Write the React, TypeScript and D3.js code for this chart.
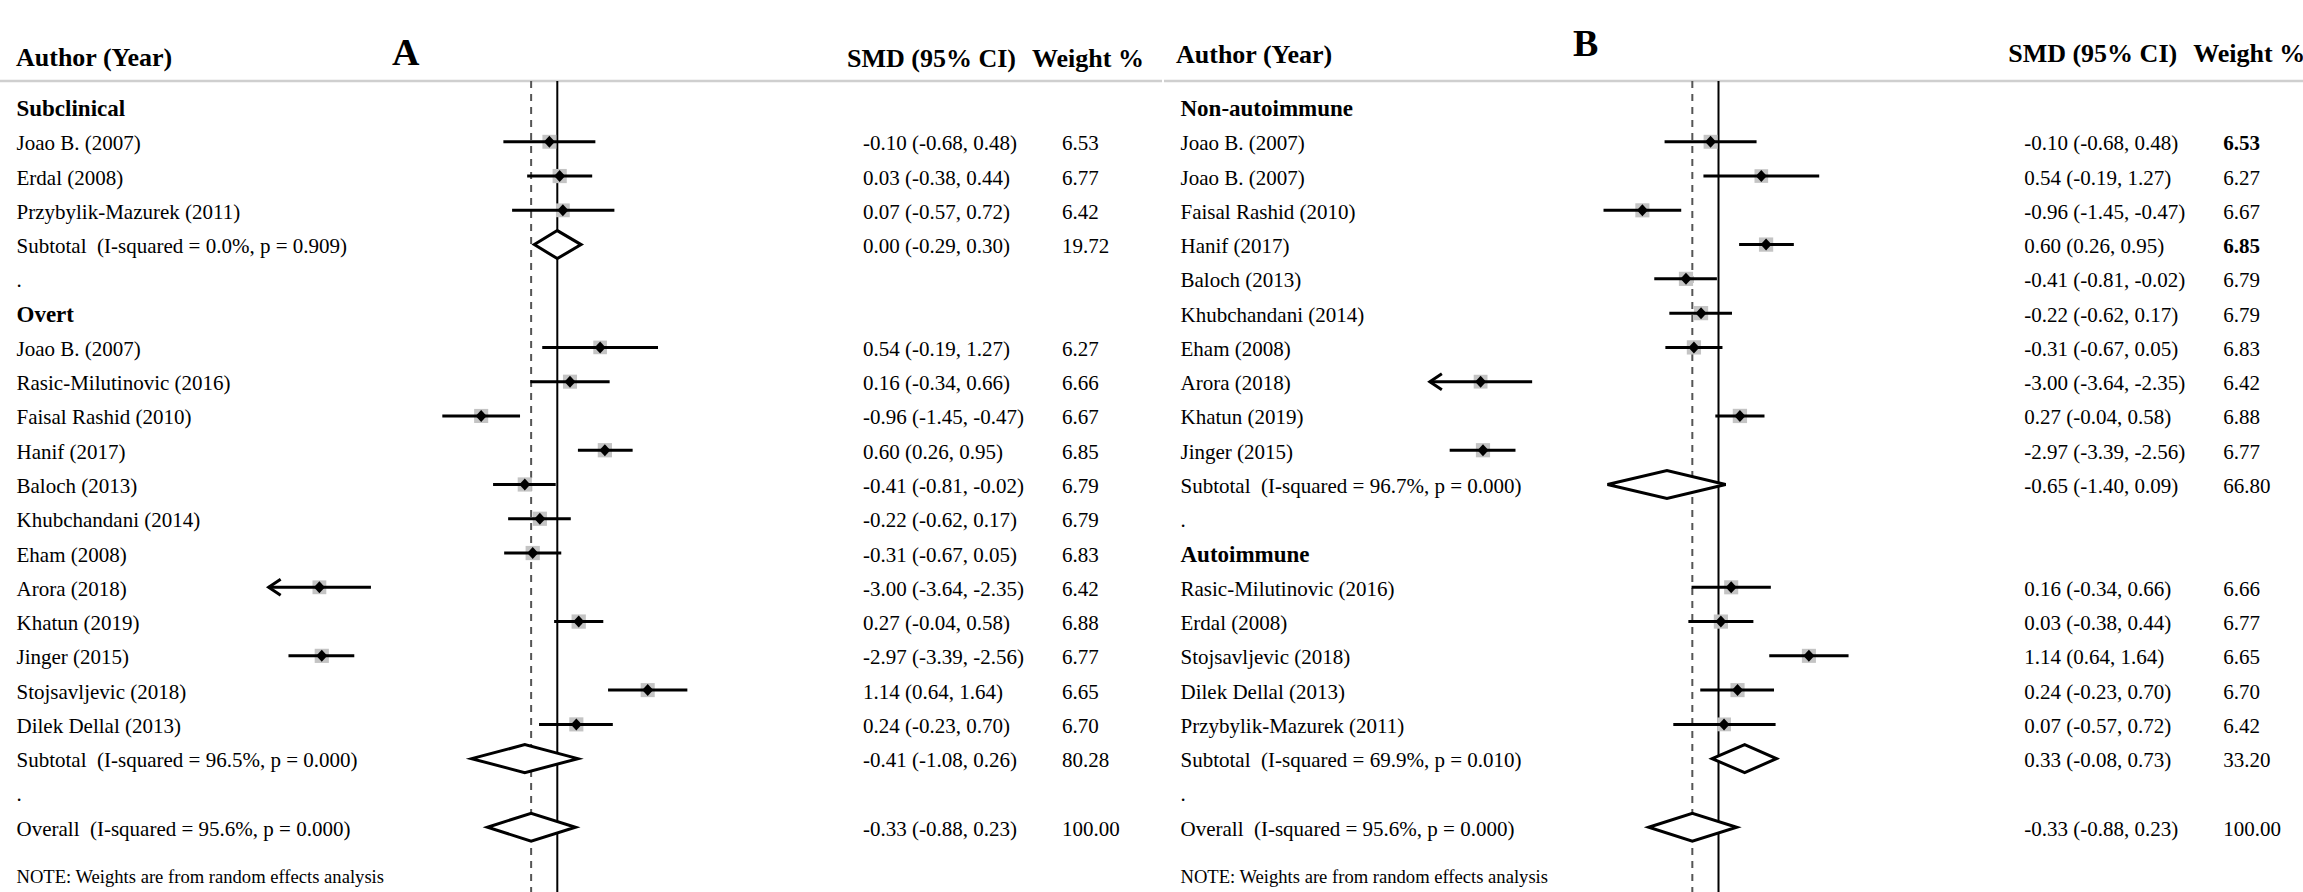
import React from "react";
import * as d3 from "d3";

// ---------- Panel A data ----------
const aLabels = [
  "Subclinical", "Joao B. (2007)", "Erdal (2008)", "Przybylik-Mazurek (2011)",
  "Subtotal  (I-squared = 0.0%, p = 0.909)", ".", "Overt", "Joao B. (2007)",
  "Rasic-Milutinovic (2016)", "Faisal Rashid (2010)", "Hanif (2017)", "Baloch (2013)",
  "Khubchandani (2014)", "Eham (2008)", "Arora (2018)", "Khatun (2019)", "Jinger (2015)",
  "Stojsavljevic (2018)", "Dilek Dellal (2013)", "Subtotal  (I-squared = 96.5%, p = 0.000)",
  ".", "Overall  (I-squared = 95.6%, p = 0.000)",
];
const aKinds = [
  "group", "study", "study", "study", "pooled", "blank", "group", "study",
  "study", "study", "study", "study", "study", "study", "study", "study", "study",
  "study", "study", "pooled", "blank", "pooled",
];
const aSMD = [null, -0.10, 0.03, 0.07, 0.00, null, null, 0.54, 0.16, -0.96, 0.60, -0.41, -0.22, -0.31, -3.00, 0.27, -2.97, 1.14, 0.24, -0.41, null, -0.33];
const aLow = [null, -0.68, -0.38, -0.57, -0.29, null, null, -0.19, -0.34, -1.45, 0.26, -0.81, -0.62, -0.67, -3.64, -0.04, -3.39, 0.64, -0.23, -1.08, null, -0.88];
const aHigh = [null, 0.48, 0.44, 0.72, 0.30, null, null, 1.27, 0.66, -0.47, 0.95, -0.02, 0.17, 0.05, -2.35, 0.58, -2.56, 1.64, 0.70, 0.26, null, 0.23];
const aWeight = [null, 6.53, 6.77, 6.42, 19.72, null, null, 6.27, 6.66, 6.67, 6.85, 6.79, 6.79, 6.83, 6.42, 6.88, 6.77, 6.65, 6.70, 80.28, null, 100.00];
const aBoldWeight: number[] = [];

// ---------- Panel B data ----------
const bLabels = [
  "Non-autoimmune", "Joao B. (2007)", "Joao B. (2007)", "Faisal Rashid (2010)", "Hanif (2017)",
  "Baloch (2013)", "Khubchandani (2014)", "Eham (2008)", "Arora (2018)", "Khatun (2019)",
  "Jinger (2015)", "Subtotal  (I-squared = 96.7%, p = 0.000)", ".", "Autoimmune",
  "Rasic-Milutinovic (2016)", "Erdal (2008)", "Stojsavljevic (2018)", "Dilek Dellal (2013)",
  "Przybylik-Mazurek (2011)", "Subtotal  (I-squared = 69.9%, p = 0.010)", ".",
  "Overall  (I-squared = 95.6%, p = 0.000)",
];
const bKinds = [
  "group", "study", "study", "study", "study", "study", "study", "study", "study", "study",
  "study", "pooled", "blank", "group", "study", "study", "study", "study", "study", "pooled",
  "blank", "pooled",
];
const bSMD = [null, -0.10, 0.54, -0.96, 0.60, -0.41, -0.22, -0.31, -3.00, 0.27, -2.97, -0.65, null, null, 0.16, 0.03, 1.14, 0.24, 0.07, 0.33, null, -0.33];
const bLow = [null, -0.68, -0.19, -1.45, 0.26, -0.81, -0.62, -0.67, -3.64, -0.04, -3.39, -1.40, null, null, -0.34, -0.38, 0.64, -0.23, -0.57, -0.08, null, -0.88];
const bHigh = [null, 0.48, 1.27, -0.47, 0.95, -0.02, 0.17, 0.05, -2.35, 0.58, -2.56, 0.09, null, null, 0.66, 0.44, 1.64, 0.70, 0.72, 0.73, null, 0.23];
const bWeight = [null, 6.53, 6.27, 6.67, 6.85, 6.79, 6.79, 6.83, 6.42, 6.88, 6.77, 66.80, null, null, 6.66, 6.77, 6.65, 6.70, 6.42, 33.20, null, 100.00];
const bBoldWeight = [1, 4];

const headerAuthor = "Author (Year)";
const headerSMD = "SMD (95% CI)";
const headerWeight = "Weight %";
const noteText = "NOTE: Weights are from random effects analysis";
const overallSMD = -0.33;
const axisMin = -3.5;

const FONT = '"Liberation Serif", "Times New Roman", serif';
const W = 2303;
const H = 892;

type PanelProps = {
  labels: string[]; kinds: string[]; smd: (number | null)[]; low: (number | null)[];
  high: (number | null)[]; weight: (number | null)[]; boldW: number[];
  ox: number; labelX: number; headX: number; letter: string; letterX: number; letterY: number;
  headY: number; colHeadY: number;
};

const fmt = (v: number) => v.toFixed(2);

function Panel(p: PanelProps) {
  const x = d3.scaleLinear().domain([-4, 2]).range([p.ox + 557.3 - 4 * 79.3, p.ox + 557.3 + 2 * 79.3]);
  const y = d3.scaleLinear().domain([0, 21]).range([107.5, 827.2]);
  const sq = d3.scaleSqrt().domain([0, 6.6]).range([0, 14]);
  const smdX = p.ox + 863;
  const wX = p.ox + 1062;
  const lineTop = 81;
  const items: React.ReactNode[] = [];
  p.labels.forEach((lab, i) => {
    const kind = p.kinds[i];
    const cy = y(i);
    items.push(
      <text key={"l" + i} x={p.labelX} y={cy + 8.5} fontSize={kind === "group" ? 23 : 21}
        fontWeight={kind === "group" ? "bold" : "normal"} style={{ whiteSpace: "pre" }}>{lab}</text>
    );
    const es = p.smd[i], lo = p.low[i], hi = p.high[i], w = p.weight[i];
    if (es != null && lo != null && hi != null) {
      items.push(
        <text key={"v" + i} x={smdX} y={cy + 8.5} fontSize={21}>{`${fmt(es)} (${fmt(lo)}, ${fmt(hi)})`}</text>
      );
    }
    if (w != null) {
      items.push(
        <text key={"w" + i} x={wX} y={cy + 8.5} fontSize={21}
          fontWeight={p.boldW.includes(i) ? "bold" : "normal"}>{fmt(w)}</text>
      );
    }
    if (kind === "study" && es != null && lo != null && hi != null && w != null) {
      const s = sq(w);
      const trunc = lo < axisMin;
      items.push(
        <g key={"m" + i}>
          <rect x={x(es) - s / 2} y={cy - s / 2} width={s} height={s} fill="#c4c4c4" />
          <line x1={x(lo)} x2={x(hi)} y1={cy} y2={cy} stroke="#000" strokeWidth={3} />
          {trunc && (
            <path d={`M${x(lo) + 12},${cy - 8} L${x(lo)},${cy} L${x(lo) + 12},${cy + 8}`}
              fill="none" stroke="#000" strokeWidth={3} />
          )}
          <path d={`M${x(es)},${cy - 6} L${x(es) + 5.5},${cy} L${x(es)},${cy + 6} L${x(es) - 5.5},${cy} Z`} fill="#000" />
        </g>
      );
    }
    if (kind === "pooled" && es != null && lo != null && hi != null) {
      items.push(
        <path key={"d" + i}
          d={`M${x(lo)},${cy} L${x(es)},${cy - 14} L${x(hi)},${cy} L${x(es)},${cy + 14} Z`}
          fill="#fff" stroke="#000" strokeWidth={3} strokeLinejoin="miter" />
      );
    }
  });
  return (
    <g>
      <line x1={x(overallSMD)} x2={x(overallSMD)} y1={lineTop} y2={H} stroke="#555" strokeWidth={2} strokeDasharray="7,6" />
      <line x1={x(0)} x2={x(0)} y1={lineTop} y2={H} stroke="#000" strokeWidth={2} />
      {items}
      <text x={p.headX} y={p.headY} fontSize={26} fontWeight="bold">{headerAuthor}</text>
      <text x={p.letterX} y={p.letterY} fontSize={38} fontWeight="bold">{p.letter}</text>
      <text x={p.ox + 847} y={p.colHeadY} fontSize={26} fontWeight="bold">{headerSMD}</text>
      <text x={p.ox + 1032} y={p.colHeadY} fontSize={26} fontWeight="bold">{headerWeight}</text>
      <text x={p.labelX} y={883} fontSize={18.6}>{noteText}</text>
    </g>
  );
}

export default function App() {
  return (
    <svg width={W} height={H} viewBox={`0 0 ${W} ${H}`}
      style={{ position: "absolute", left: 0, top: 0, background: "#fff", fontFamily: FONT }}
      fill="#000">
      <rect x={0} y={0} width={W} height={H} fill="#fff" />
      <line x1={0} x2={1162} y1={81} y2={81} stroke="#cfcfcf" strokeWidth={2.5} />
      <line x1={1164} x2={W} y1={81} y2={81} stroke="#cfcfcf" strokeWidth={2.5} />
      <Panel labels={aLabels} kinds={aKinds} smd={aSMD} low={aLow} high={aHigh} weight={aWeight}
        boldW={aBoldWeight} ox={0} labelX={16.5} headX={16} letter="A" letterX={392} letterY={65}
        headY={66} colHeadY={67} />
      <Panel labels={bLabels} kinds={bKinds} smd={bSMD} low={bLow} high={bHigh} weight={bWeight}
        boldW={bBoldWeight} ox={1161.2} labelX={1180.5} headX={1176} letter="B" letterX={1573} letterY={56}
        headY={63} colHeadY={62} />
    </svg>
  );
}
